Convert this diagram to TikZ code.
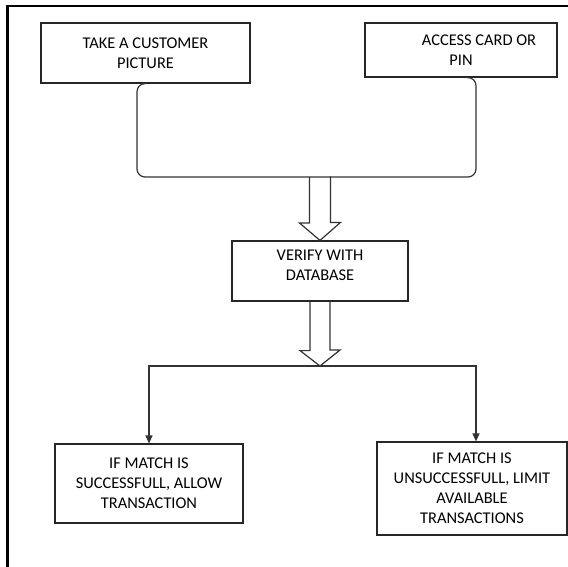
\documentclass[tikz,border=0pt]{standalone}
\usepackage{fontspec}
\setmainfont{Carlito}
\usepackage{tikz}
\usetikzlibrary{arrows.meta,calc}

\begin{document}
\begin{tikzpicture}[x=1pt,y=-1pt,
  box/.style={draw=black!85,line width=1.2pt,align=center,inner sep=0pt,
    font=\fontsize{16.4}{20}\selectfont,text=black},
  line/.style={draw=black!80,line width=1.2pt},
  tip/.style={-{Triangle[length=8pt,width=7pt]}}]
  \useasboundingbox (0,0) rectangle (568,567);
  % Outer frame
  \draw[line width=2.4pt] (7.5,567) -- (7.5,6) -- (568,6);
  % Inputs
  \node[box,minimum width=209pt,minimum height=60pt] (take) at (145.5,53) {TAKE A CUSTOMER\\PICTURE};
  \node[box,minimum width=192pt,minimum height=54pt] (access) at (461,50) {\hspace*{2.2em}ACCESS CARD OR\\PIN};
  % Verification
  \node[box,minimum width=176pt,minimum height=60pt] (verify) at (320,271) {VERIFY WITH\\DATABASE\\[-8pt]};
  % Outcomes
  \node[box,minimum width=188pt,minimum height=79pt] (success) at (149,483.5) {IF MATCH IS\\SUCCESSFULL, ALLOW\\TRANSACTION};
  \node[box,minimum width=190pt,minimum height=93pt] (fail) at (472,488.5) {IF MATCH IS\\UNSUCCESSFULL, LIMIT\\AVAILABLE\\TRANSACTIONS};
  \coordinate (join) at (320,177);
  \coordinate (split) at (320,366);
  % Bracket joining both inputs
  \draw[line,rounded corners=8pt] ([xshift=1.5pt]take.south) -- ++(-10,0) |- (join)
    -| ([xshift=15pt]access.south) -- ([xshift=5pt]access.south);
  % Block arrows
  \draw[line] ([xshift=-10.5pt]join) -- ++(0,46) -- ++(-10,0) -- (verify.north)
    -- ++(20.5,-18) -- ++(-10,0) -- ++(0,-46);
  \draw[line] ([xshift=-10pt]verify.south) -- ++(0,49) -- ++(-10,0) -- (split)
    -- ++(20,-16) -- ++(-10,0) -- ++(0,-49);
  % Branches
  \draw[line,tip] (split) -| (success.north);
  \draw[line,tip] (split) -| ([xshift=4pt]fail.north);
\end{tikzpicture}
\end{document}
